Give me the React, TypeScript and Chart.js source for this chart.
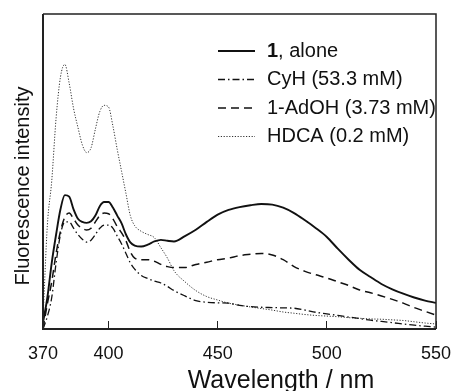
import React, { useEffect, useRef } from "react";
import { Chart, registerables } from "chart.js";

Chart.register(...registerables);

// Wavelength grid (nm)
const wavelengths = [
  370, 372, 374, 376, 378, 380, 382, 384, 386, 388, 390, 392, 394, 396, 398, 400,
  402, 404, 406, 408, 410, 412, 415, 418, 421, 424, 427, 430, 435, 440, 445, 450,
  455, 460, 465, 470, 475, 480, 485, 490, 495, 500, 505, 510, 515, 520, 525, 530,
  535, 540, 545, 550,
];

// 1, alone (solid)
const aloneValues = [
  2, 10, 21, 30, 38, 42.5, 42, 38, 35, 34, 33.7, 34.2, 36, 39, 40.3, 40.3,
  38.6, 36, 33.5, 30, 27.5, 26.5, 26.2, 26.8, 27.8, 28.3, 28, 27.8, 29.5, 31.5, 34, 36.3,
  37.8, 38.7, 39.3, 39.7, 39.5, 38.5, 36.8, 34.5, 32, 29.2, 25.5, 22, 18.8, 16.5, 14.3, 12.6,
  11.2, 10, 9, 8.3,
];

// CyH (53.3 mM) (dash-dot)
const cyhValues = [
  0, 4, 10, 21, 30, 34, 34, 32, 30, 28.5, 27.6, 28.2, 30, 32, 33, 33,
  32, 29.5, 27, 24, 21, 19, 17, 16, 15.2, 14.6, 13.5, 12.2, 10.5, 9, 8.5, 8.3,
  8.2, 7.5, 7.1, 6.9, 6.8, 6.7, 6.6, 6, 5.3, 4.8, 4.3, 3.8, 3.3, 2.8, 2.4, 2,
  1.6, 1.2, 0.9, 0.6,
];

// 1-AdOH (3.73 mM) (dashed)
const adohValues = [
  0, 8, 15, 24, 31, 35.5, 36.8, 35, 33, 32, 31.4, 32, 34, 36, 36.8, 36.6,
  35, 32.5, 30.5, 28, 24.5, 22.5, 22, 22, 21.5, 20.5, 19.8, 19.5, 19.5, 20.5, 21.2, 22,
  22.5, 23.3, 23.7, 24, 23.5, 22, 19.8, 18.3, 17.2, 16.2, 15, 13.8, 12.4, 11.5, 10.5, 9.4,
  8.2, 6.8, 5.6, 4.4,
];

// HDCA (0.2 mM) (dotted)
const hdcaValues = [
  3, 33, 47, 67, 80, 84, 78, 70, 64, 58.5, 56, 57.5, 63.5, 69, 71, 70.5,
  64.5, 57, 50, 43, 36, 32.8, 31, 30, 29, 25.8, 22.5, 18.5, 15, 12.2, 10.3, 9.2,
  8.2, 7.6, 7, 6.5, 6, 5.4, 5, 4.6, 4.3, 4.1, 3.9, 3.6, 3.4, 3.2, 3.1, 2.9,
  2.7, 2.3, 1.9, 1.6,
];

const xTickValues = [370, 400, 450, 500, 550];
const seriesLabels = ["1, alone", "CyH (53.3 mM)", "1-AdOH (3.73 mM)", "HDCA (0.2 mM)"];
const xTitle = "Wavelength / nm";
const yTitle = "Fluorescence intensity";

const FONT = "'Liberation Sans', Arial, Helvetica, sans-serif";

const toPoints = (vals: number[]) => wavelengths.map((w, i) => ({ x: w, y: vals[i] }));

const framePlugin = {
  id: "frame",
  afterDraw(chart: any) {
    const { ctx, chartArea } = chart;
    const { left, top, right, bottom } = chartArea;
    ctx.save();
    ctx.setLineDash([]);
    ctx.strokeStyle = "#222";
    ctx.lineWidth = 1.5;
    ctx.beginPath();
    ctx.moveTo(left, top);
    ctx.lineTo(right, top);
    ctx.lineTo(right, bottom);
    ctx.stroke();
    ctx.lineWidth = 2;
    ctx.beginPath();
    ctx.moveTo(left, top);
    ctx.lineTo(left, bottom);
    ctx.lineTo(right, bottom);
    ctx.stroke();

    // axis titles
    ctx.fillStyle = "#111";
    ctx.textAlign = "center";
    ctx.textBaseline = "alphabetic";
    ctx.font = `25px ${FONT}`;
    ctx.fillText(xTitle, left + 238, bottom + 59);
    ctx.save();
    ctx.translate(left - 14, top + 172);
    ctx.rotate(-Math.PI / 2);
    ctx.textBaseline = "alphabetic";
    ctx.font = `20px ${FONT}`;
    ctx.fillText(yTitle, 0, 0);
    ctx.restore();
    ctx.restore();
  },
};

const insideLegendPlugin = {
  id: "insideLegend",
  afterDraw(chart: any) {
    const { ctx, chartArea } = chart;
    const x0 = chartArea.left + 175;
    const x1 = chartArea.left + 212;
    const tx = chartArea.left + 224;
    const y0 = chartArea.top + 37;
    const dy = 28.5;
    ctx.save();
    chart.data.datasets.forEach((ds: any, i: number) => {
      const y = y0 + i * dy;
      ctx.strokeStyle = ds.borderColor;
      ctx.lineWidth = ds.borderWidth;
      ctx.setLineDash(ds.borderDash || []);
      ctx.beginPath();
      ctx.moveTo(x0, y);
      ctx.lineTo(x1, y);
      ctx.stroke();
      ctx.setLineDash([]);
      ctx.fillStyle = "#111";
      ctx.textBaseline = "middle";
      ctx.textAlign = "left";
      const label: string = ds.label;
      if (label.startsWith("1,")) {
        ctx.font = `bold 20px ${FONT}`;
        ctx.fillText("1", tx, y);
        const w = ctx.measureText("1").width;
        ctx.font = `20px ${FONT}`;
        ctx.fillText(label.slice(1), tx + w, y);
      } else {
        ctx.font = `20px ${FONT}`;
        ctx.fillText(label, tx, y);
      }
    });
    ctx.restore();
  },
};

export default function App() {
  const canvasRef = useRef<HTMLCanvasElement | null>(null);

  useEffect(() => {
    document.body.style.margin = "0";
    const canvas = canvasRef.current;
    if (!canvas) return;
    const common = {
      pointRadius: 0,
      fill: false,
      cubicInterpolationMode: "monotone" as const,
    };
    const chart = new Chart(canvas, {
      type: "line",
      data: {
        datasets: [
          { ...common, label: seriesLabels[0], data: toPoints(aloneValues), borderColor: "#111", borderWidth: 1.9, borderDash: [] },
          { ...common, label: seriesLabels[1], data: toPoints(cyhValues), borderColor: "#111", borderWidth: 1.3, borderDash: [7, 3, 1.5, 3] },
          { ...common, label: seriesLabels[2], data: toPoints(adohValues), borderColor: "#111", borderWidth: 1.5, borderDash: [8, 5] },
          { ...common, label: seriesLabels[3], data: toPoints(hdcaValues), borderColor: "#333", borderWidth: 1, borderDash: [1.2, 1.6] },
        ],
      },
      options: {
        animation: false,
        responsive: false,
        maintainAspectRatio: false,
        layout: { padding: { top: 14, right: 18, left: 0, bottom: 0 } },
        plugins: {
          legend: { display: false },
          tooltip: { enabled: false },
        },
        scales: {
          x: {
            type: "linear",
            min: 370,
            max: 550,
            afterBuildTicks: (scale: any) => {
              scale.ticks = xTickValues.map((v) => ({ value: v }));
            },
            afterFit: (scale: any) => {
              scale.height = 62;
              scale.paddingLeft = 0;
              scale.paddingRight = 0;
            },
            grid: {
              drawOnChartArea: false,
              drawTicks: true,
              tickLength: -8,
              color: "#222",
              lineWidth: 1,
            },
            border: { display: false },
            ticks: {
              autoSkip: false,
              maxRotation: 0,
              padding: 22,
              color: "#111",
              font: { family: FONT, size: 18 },
              callback: (v: any) => String(v),
            },
            title: { display: false },
          },
          y: {
            type: "linear",
            min: 0,
            max: 100,
            afterFit: (scale: any) => {
              scale.width = 43;
              scale.paddingTop = 0;
              scale.paddingBottom = 0;
            },
            grid: { display: false, drawTicks: false },
            border: { display: false },
            ticks: { display: false },
            title: { display: false },
          },
        },
      },
      plugins: [framePlugin, insideLegendPlugin],
    });
    return () => chart.destroy();
  }, []);

  return (
    <div style={{ width: 454, height: 391 }}>
      <canvas ref={canvasRef} width={454} height={391} style={{ display: "block" }} />
    </div>
  );
}
